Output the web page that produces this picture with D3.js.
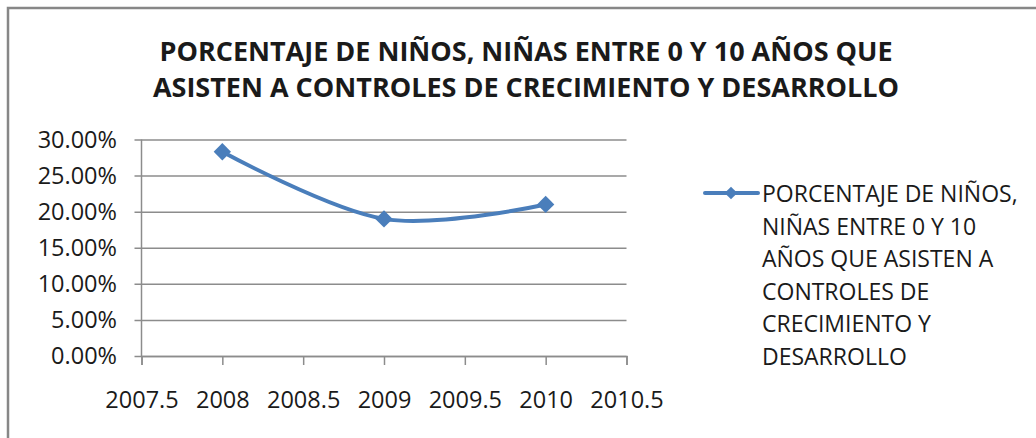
<!DOCTYPE html>
<html>
<head>
<meta charset="utf-8">
<script src="https://cdn.jsdelivr.net/npm/d3@7"></script>
<style>
  body { margin: 0; background: #fff; }
  text { font-family: "Open Sans", Lato, sans-serif; fill: #1a1a1a; }
</style>
</head>
<body>
<script>
// data
var years = [2008, 2009, 2010];
var percents = [0.283, 0.190, 0.210];
var yTicks = [0, 0.05, 0.10, 0.15, 0.20, 0.25, 0.30];
var xTicks = [2007.5, 2008, 2008.5, 2009, 2009.5, 2010, 2010.5];
var titleLines = ["PORCENTAJE DE NIÑOS, NIÑAS ENTRE 0 Y 10 AÑOS QUE",
                  "ASISTEN A CONTROLES DE CRECIMIENTO Y DESARROLLO"];
var legendLines = ["PORCENTAJE DE NIÑOS,", "NIÑAS ENTRE 0 Y 10",
                   "AÑOS QUE ASISTEN A", "CONTROLES DE",
                   "CRECIMIENTO Y", "DESARROLLO"];

var svgW = 1036, svgH = 438, blue = "#4A7EBB", grid = "#8c8c8c";

var svg = d3.select("body").append("svg").attr("width", svgW).attr("height", svgH);

// chart frame
svg.append("rect").attr("x", 8).attr("y", 8).attr("width", 1100).attr("height", 500)
  .attr("fill", "none").attr("stroke", "#878787").attr("stroke-width", 2.5);

// title
svg.append("g").selectAll("text").data(titleLines).enter().append("text")
  .attr("x", 526).attr("y", function(d, i){ return 61 + i*36; })
  .attr("text-anchor", "middle").attr("font-weight", "bold").attr("font-size", 27)
  .text(function(d){ return d; });

var x = d3.scaleLinear().domain([2007.5, 2010.5]).range([141.5, 626.5]);
var y = d3.scaleLinear().domain([0, 0.30]).range([356, 139.5]);

// horizontal gridlines + y axis
var yAxis = d3.axisLeft(y).tickValues(yTicks).tickSize(-(626.5 - 141.5)).tickPadding(24.5)
  .tickFormat(function(d){ return (d*100).toFixed(2) + "%"; });
var gy = svg.append("g").attr("transform", "translate(141.5,0)").call(yAxis);
gy.select(".domain").remove();
gy.selectAll(".tick line").attr("x1", -7).attr("stroke", grid).attr("stroke-width", 1.5);
gy.selectAll(".tick text").attr("font-size", 23.5).attr("fill", "#1a1a1a")
  .attr("font-family", "'Open Sans', sans-serif");

// x axis
var xAxis = d3.axisBottom(x).tickValues(xTicks).tickSize(9).tickPadding(26)
  .tickFormat(function(d){ return String(d); });
var gx = svg.append("g").attr("transform", "translate(0,356)").call(xAxis);
gx.select(".domain").attr("stroke", grid).attr("stroke-width", 1.5);
gx.selectAll(".tick line").attr("stroke", grid).attr("stroke-width", 1.5);
gx.selectAll(".tick text").attr("font-size", 23.5).attr("fill", "#1a1a1a")
  .attr("font-family", "'Open Sans', sans-serif");

// vertical axis line
svg.append("line").attr("x1", x(2007.5)).attr("x2", x(2007.5))
  .attr("y1", y(0.30)).attr("y2", y(0)).attr("stroke", grid).attr("stroke-width", 1.5);

// series
var pts = years.map(function(d, i){ return [d, percents[i]]; });
var line = d3.line().x(function(d){ return x(d[0]); }).y(function(d){ return y(d[1]); })
  .curve(d3.curveCardinal.tension(0));
svg.append("path").datum(pts).attr("d", line).attr("fill", "none")
  .attr("stroke", blue).attr("stroke-width", 4).attr("stroke-linecap", "round");

var diamond = d3.symbol().type(d3.symbolSquare).size(150);
svg.append("g").selectAll("path").data(pts).enter().append("path")
  .attr("d", diamond).attr("fill", blue)
  .attr("transform", function(d){ return "translate(" + x(d[0]) + "," + y(d[1]) + ") rotate(45)"; });

// legend
var lg = svg.append("g");
lg.append("line").attr("x1", 705).attr("x2", 758).attr("y1", 193).attr("y2", 193)
  .attr("stroke", blue).attr("stroke-width", 4).attr("stroke-linecap", "round");
lg.append("path").attr("d", d3.symbol().type(d3.symbolSquare).size(80))
  .attr("fill", blue).attr("transform", "translate(731,193) rotate(45)");
lg.selectAll("text").data(legendLines).enter().append("text")
  .attr("x", 762).attr("y", function(d, i){ return 202 + i*32.6; })
  .attr("font-size", 23).text(function(d){ return d; });
</script>
</body>
</html>
